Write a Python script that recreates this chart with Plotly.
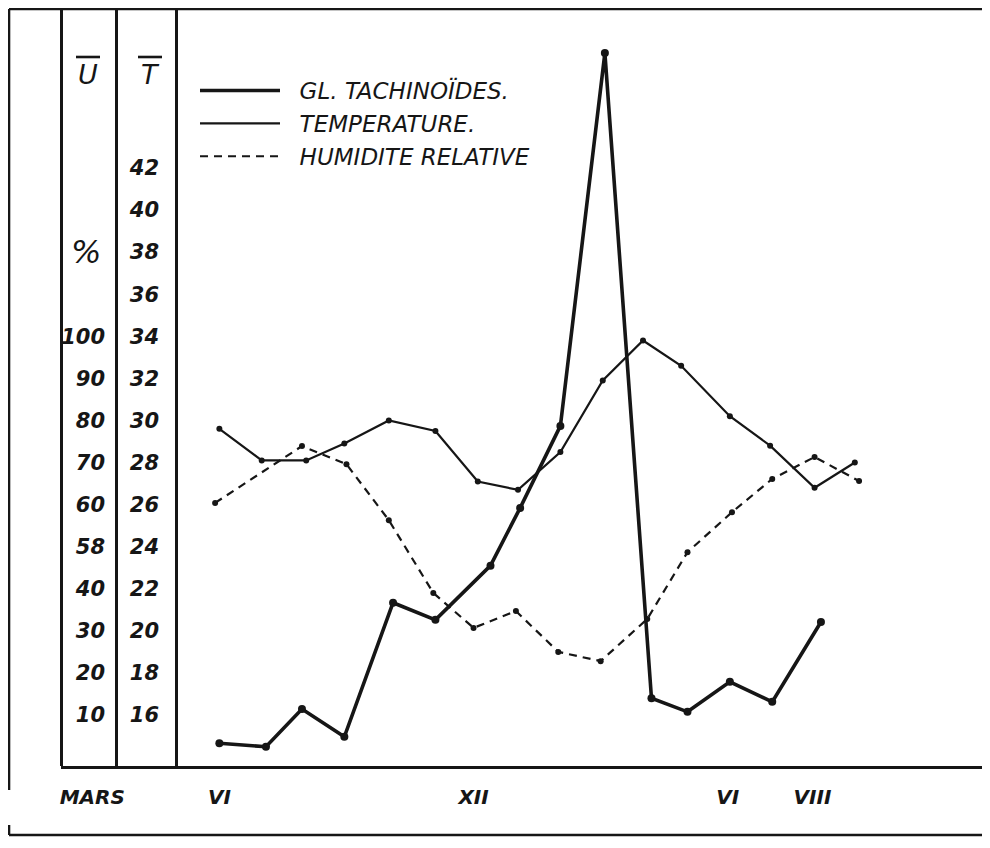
import plotly.graph_objects as go

# ---------------- data ----------------
# x = month index, 0 = June (VI), 6 = December (XII), 12 = June, 14 = August
month_tickvals = [-3, 0, 6, 12, 14]
month_ticktext = ["MARS", "VI", "XII", "VI", "VIII"]

temp_tickvals = [16, 18, 20, 22, 24, 26, 28, 30, 32, 34, 36, 38, 40, 42]
temp_ticktext = ["16", "18", "20", "22", "24", "26", "28", "30", "32", "34", "36", "38", "40", "42"]

hum_tickvals = [10, 20, 30, 40, 50, 60, 70, 80, 90, 100]
hum_ticktext = ["10", "20", "30", "40", "58", "60", "70", "80", "90", "100"]

# Glossina tachinoides (relative abundance, no scale on the original)
gl_month = [0.0, 1.1, 1.95, 2.95, 4.1, 5.1, 6.4, 7.1, 8.05, 9.1, 10.2, 11.05, 12.05, 13.05, 14.2]
gl_index = [3.2, 2.7, 8.0, 4.1, 22.9, 20.5, 28.1, 36.2, 47.7, 100, 9.5, 7.6, 11.8, 9.0, 20.2]

# Temperature (°C)
temp_month = [0, 1, 2.05, 2.95, 4, 5.1, 6.1, 7.05, 8.05, 9.05, 10, 10.9, 12.05, 13, 14.05, 15]
temp_c = [29.6, 28.1, 28.1, 28.9, 30.0, 29.5, 27.1, 26.7, 28.5, 31.9, 33.8, 32.6, 30.2, 28.8, 26.8, 28.0]

# Relative humidity (%)
hum_month = [-0.1, 1.95, 3.0, 4.0, 5.05, 6.0, 7.0, 8.0, 9.0, 10.1, 11.05, 12.1, 13.05, 14.05, 15.1]
hum_pct = [60.4, 73.9, 69.6, 56.3, 39.0, 30.7, 34.7, 25.0, 22.8, 32.8, 48.7, 58.2, 66.1, 71.3, 65.6]

# ---------------- styling ----------------
INK = "#161616"
HAND = "DejaVu Sans"
# the page places the figure 8px from the top-left corner of the window
OFF = 8
W, H = 990 - OFF, 848 - 2 * OFF


def px(x):
    return (x - OFF) / W


def py(y):
    return 1 - (y - OFF) / H


fig = go.Figure()

NB = "\u00a0\u00a0"
# legend (line-only) traces
fig.add_trace(go.Scatter(x=gl_month, y=gl_index, yaxis="y3", mode="lines",
                         name=NB + "GL. TACHINOÏDES.", line=dict(color=INK, width=3.6)))
fig.add_trace(go.Scatter(x=temp_month, y=temp_c, yaxis="y", mode="lines",
                         name=NB + "TEMPERATURE.", line=dict(color=INK, width=2.2)))
fig.add_trace(go.Scatter(x=hum_month, y=hum_pct, yaxis="y2", mode="lines",
                         name=NB + "HUMIDITE RELATIVE", line=dict(color=INK, width=2.2, dash="8px,6px")))

# point markers
fig.add_trace(go.Scatter(x=gl_month, y=gl_index, yaxis="y3", mode="markers", showlegend=False,
                         marker=dict(color=INK, size=8), cliponaxis=False))
fig.add_trace(go.Scatter(x=temp_month, y=temp_c, yaxis="y", mode="markers", showlegend=False,
                         marker=dict(color=INK, size=6), cliponaxis=False))
fig.add_trace(go.Scatter(x=hum_month, y=hum_pct, yaxis="y2", mode="markers", showlegend=False,
                         marker=dict(color=INK, size=6), cliponaxis=False))

# pixel -> value ranges (domain spans y = 766 px .. 8 px)
ydom = [py(766), py(8)]
tickfont = dict(family=HAND, size=21, color=INK, weight="bold", style="italic")

fig.update_layout(
    width=W, height=H, autosize=False,
    margin=dict(l=0, r=0, t=0, b=0, pad=0),
    paper_bgcolor="white", plot_bgcolor="white",
    showlegend=True,
    legend=dict(x=px(195), y=py(69), xanchor="left", yanchor="top",
                bgcolor="rgba(0,0,0,0)", itemwidth=80,
                font=dict(family=HAND, size=23, color=INK, style="italic"),
                tracegroupgap=0),
    xaxis=dict(domain=[px(61), 1], range=[-3.738, 18.381 - OFF / 42], anchor="y",
               showgrid=False, zeroline=False, showline=True, linecolor=INK, linewidth=2.6,
               tickmode="array", tickvals=month_tickvals, ticktext=month_ticktext,
               ticks="", ticklabelstandoff=11,
               tickfont=dict(family=HAND, size=20, color=INK, weight="bold", style="italic")),
    yaxis=dict(domain=ydom, range=[13.576, 49.603], anchor="free", position=px(176),
               side="left", showgrid=False, zeroline=False, showline=True, linecolor=INK, linewidth=2.6,
               tickmode="array", tickvals=temp_tickvals, ticktext=temp_ticktext,
               ticks="", ticklabelstandoff=12, tickfont=tickfont),
    yaxis2=dict(domain=ydom, range=[-2.12, 178.01], anchor="free", position=px(116),
                overlaying="y", side="left", showgrid=False, zeroline=False,
                showline=True, linecolor=INK, linewidth=2.6,
                tickmode="array", tickvals=hum_tickvals, ticktext=hum_ticktext,
                ticks="", ticklabelstandoff=6, tickfont=tickfont),
    yaxis3=dict(domain=ydom, range=[0, 106.31], anchor="free", position=px(61),
                overlaying="y", side="left", showgrid=False, zeroline=False,
                showline=True, linecolor=INK, linewidth=2.6, showticklabels=False, ticks=""),
)

# outer frame (hand-drawn border)
frame = [
    (9, 9, 990, 9),      # top
    (9, 9, 9, 790),      # left
    (9, 835, 990, 835),  # bottom
    (9, 825, 9, 835),
]
for x0, y0, x1, y1 in frame:
    fig.add_shape(type="line", xref="paper", yref="paper",
                  x0=px(x0), x1=px(x1), y0=py(y0), y1=py(y1),
                  line=dict(color=INK, width=2.6))

# column headers with overbars
for txt, xc in [("U", 88), ("T", 150)]:
    fig.add_annotation(text=txt, xref="paper", yref="paper", x=px(xc), y=py(74),
                       showarrow=False, xanchor="center", yanchor="middle",
                       font=dict(family=HAND, size=27, color=INK, style="italic"))
    fig.add_shape(type="line", xref="paper", yref="paper",
                  x0=px(xc - 12), x1=px(xc + 12), y0=py(57), y1=py(57),
                  line=dict(color=INK, width=2.6))

fig.add_annotation(text="%", xref="paper", yref="paper", x=px(86), y=py(252),
                   showarrow=False, xanchor="center", yanchor="middle",
                   font=dict(family=HAND, size=32, color=INK, style="italic"))

fig.write_html("out.html")
